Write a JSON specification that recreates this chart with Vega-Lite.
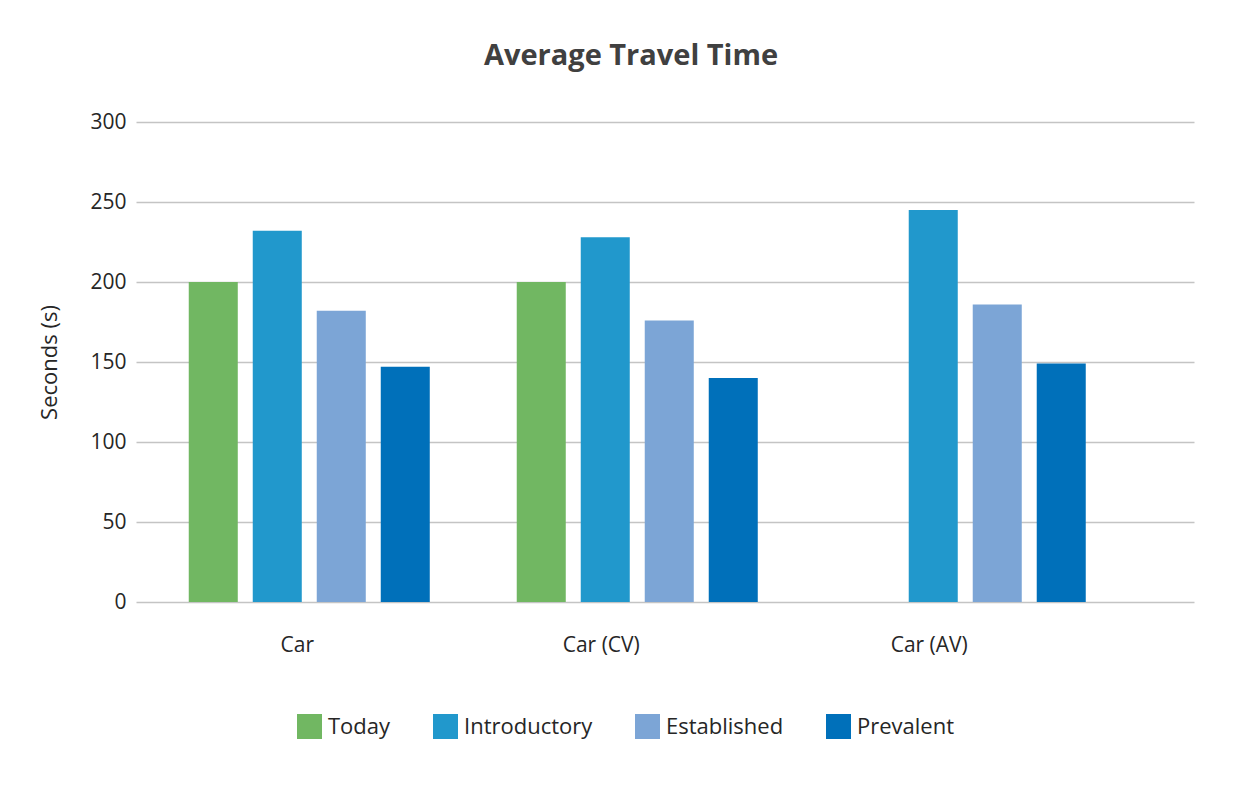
{
  "$schema": "https://vega.github.io/schema/vega-lite/v6.json",
  "width": 1058,
  "height": 480,
  "padding": {"left": 38, "top": 42, "right": 10, "bottom": 10},
  "background": "white",
  "title": {
    "text": "Average Travel Time",
    "fontSize": 29,
    "font": "Open Sans",
    "fontWeight": "bold",
    "color": "#404040",
    "anchor": "middle",
    "frame": "group",
    "offset": 40,
    "dx": -34
  },
  "data": {
    "values": [
      {"mode": "Car", "scenario": "Today", "seconds": 200},
      {"mode": "Car", "scenario": "Introductory", "seconds": 232},
      {"mode": "Car", "scenario": "Established", "seconds": 182},
      {"mode": "Car", "scenario": "Prevalent", "seconds": 147},
      {"mode": "Car (CV)", "scenario": "Today", "seconds": 200},
      {"mode": "Car (CV)", "scenario": "Introductory", "seconds": 228},
      {"mode": "Car (CV)", "scenario": "Established", "seconds": 176},
      {"mode": "Car (CV)", "scenario": "Prevalent", "seconds": 140},
      {"mode": "Car (AV)", "scenario": "Introductory", "seconds": 245},
      {"mode": "Car (AV)", "scenario": "Established", "seconds": 186},
      {"mode": "Car (AV)", "scenario": "Prevalent", "seconds": 149}
    ]
  },
  "mark": {"type": "bar"},
  "encoding": {
    "x": {
      "field": "mode",
      "type": "nominal",
      "sort": ["Car", "Car (CV)", "Car (AV)"],
      "scale": {"paddingInner": 0.2195, "paddingOuter": 0.2226, "align": 0.31},
      "axis": {
        "title": null,
        "labelAngle": 0,
        "labelFontSize": 21,
        "labelFont": "Open Sans",
        "labelColor": "#262626",
        "labelPadding": 32,
        "ticks": false,
        "domain": false,
        "labelOffset": {"condition": {"test": "datum.value == 'Car'", "value": -12}, "value": -36}
      }
    },
    "xOffset": {
      "field": "scenario",
      "type": "nominal",
      "sort": ["Today", "Introductory", "Established", "Prevalent"],
      "scale": {"domain": ["Today", "Introductory", "Established", "Prevalent"], "paddingInner": 0.234, "paddingOuter": 0.117}
    },
    "y": {
      "field": "seconds",
      "type": "quantitative",
      "scale": {"domain": [0, 300], "nice": false},
      "axis": {
        "title": "Seconds (s)",
        "titleFontSize": 22,
        "titleFont": "Open Sans",
        "titleFontWeight": "normal",
        "titleColor": "#262626",
        "titlePadding": 28,
        "values": [0, 50, 100, 150, 200, 250, 300],
        "labelFontSize": 21,
        "labelFont": "Open Sans",
        "labelColor": "#262626",
        "labelPadding": 10,
        "ticks": false,
        "domain": false,
        "gridColor": "#c4c4c4",
        "gridWidth": 1.3
      }
    },
    "color": {
      "field": "scenario",
      "type": "nominal",
      "sort": ["Today", "Introductory", "Established", "Prevalent"],
      "scale": {
        "domain": ["Today", "Introductory", "Established", "Prevalent"],
        "range": ["#71B762", "#2198CC", "#7CA5D6", "#0070BA"]
      },
      "legend": {
        "title": null,
        "orient": "none",
        "legendX": 161,
        "legendY": 592,
        "direction": "horizontal",
        "symbolType": "square",
        "symbolSize": 625,
        "symbolStrokeWidth": 0,
        "symbolOpacity": 1,
        "labelFontSize": 22,
        "labelFont": "Open Sans",
        "labelColor": "#262626",
        "labelOffset": 6,
        "columnPadding": 42
      }
    }
  },
  "config": {
    "view": {"stroke": null}
  }
}
